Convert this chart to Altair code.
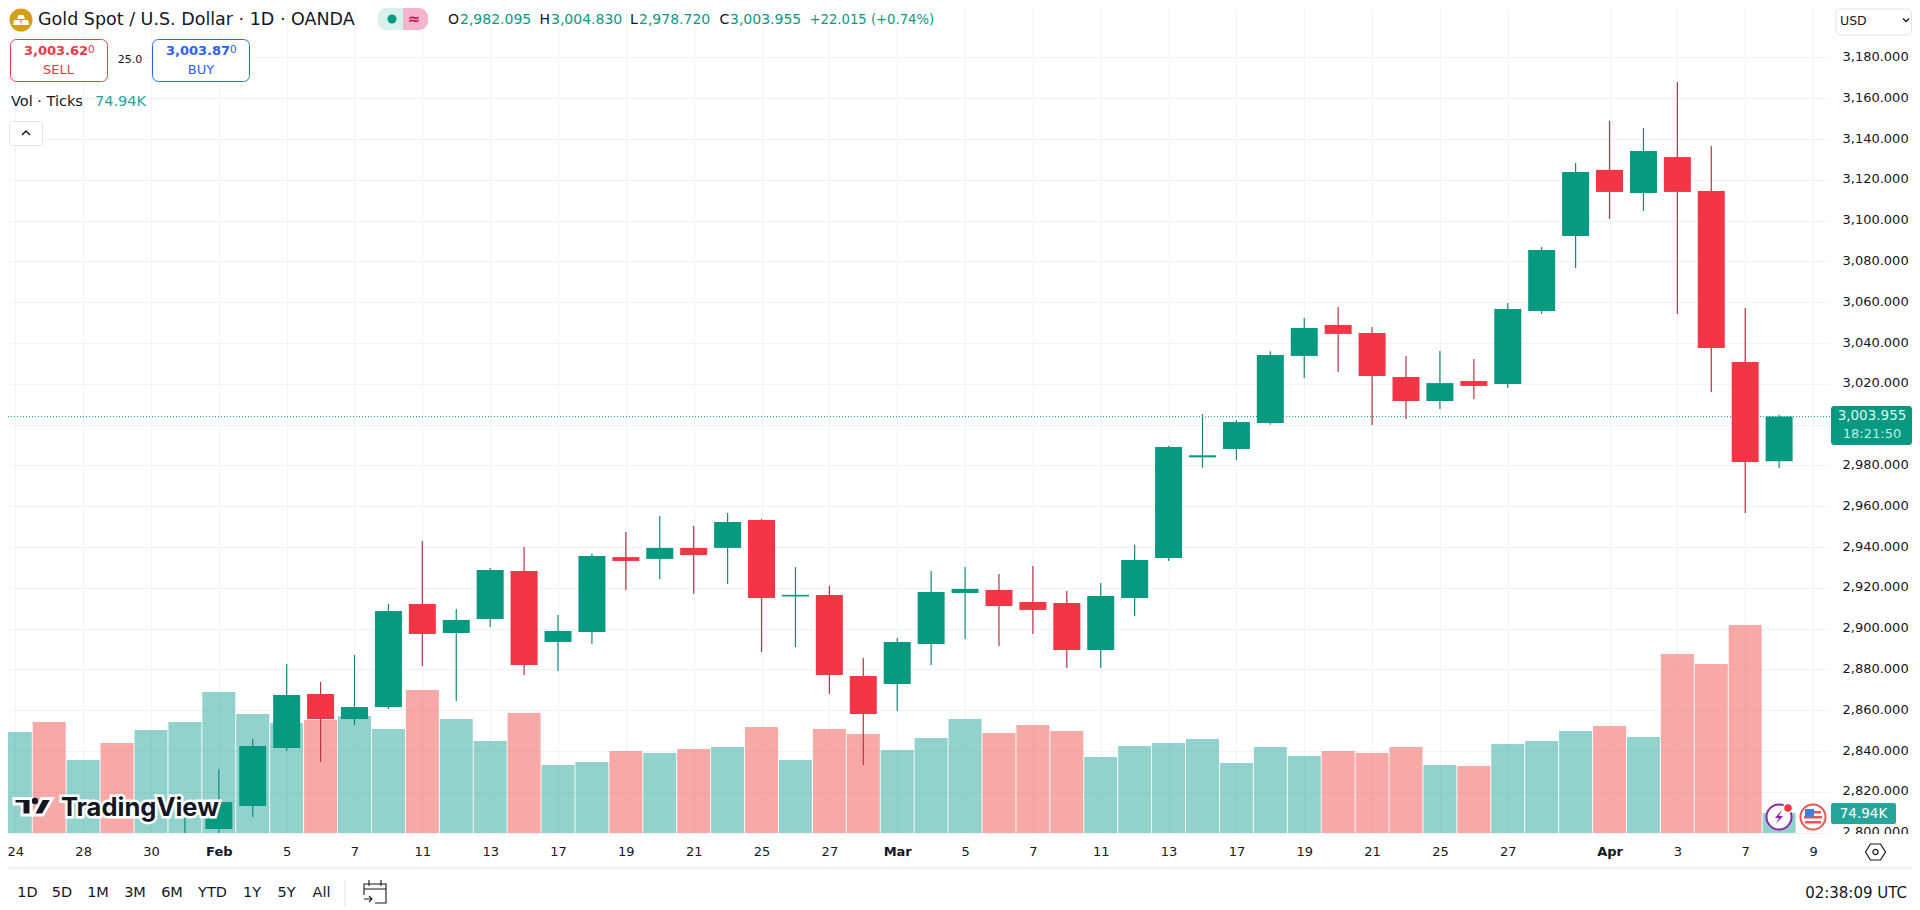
import altair as alt
import pandas as pd

alt.data_transformers.disable_max_rows()

# ---------- chart values ----------
tick_index = [0, 2, 4, 6, 8, 10, 12, 14, 16, 18, 20, 22, 24, 26, 28, 30, 32, 34, 36, 38, 40, 42, 44, 47, 49, 51, 53]
tick_labels = ["24", "28", "30", "Feb", "5", "7", "11", "13", "17", "19", "21", "25", "27", "Mar",
               "5", "7", "11", "13", "17", "19", "21", "25", "27", "Apr", "3", "7", "9"]
month_ticks = [6, 26, 47]
price_ticks = list(range(2800, 3200, 20))
hidden_price_label = 3000

candle_index = list(range(5, 53))
opens = [2790, 2801.8, 2813.1, 2841.5, 2868, 2855.7, 2861.6, 2912.1, 2897.9, 2904.8, 2928.3, 2893.5, 2898.4, 2935.1,
         2934.2, 2939.6, 2939.6, 2953.3, 2915.8, 2916.5, 2876.8, 2872.9, 2892.5, 2917.5, 2919, 2913.1, 2912.6, 2889.6,
         2915.1, 2934.7, 2984, 2988.1, 3000.8, 3033.7, 3048.9, 3045, 3023.4, 3011.6, 3021.4, 3020, 3055.7, 3092.5,
         3124.9, 3113.6, 3131.2, 3114.6, 3030.7, 2982.095]
closes = [2796, 2815, 2842.5, 2867.5, 2855.7, 2861.6, 2908.7, 2897.4, 2904.3, 2928.8, 2882.2, 2898.9, 2935.6, 2933.2,
          2939.6, 2936.1, 2952.3, 2915.1, 2916.6, 2877.3, 2858.2, 2893.5, 2918, 2919.5, 2911.1, 2909.2, 2889.6, 2916,
          2933.7, 2989.1, 2985, 3001.3, 3034.2, 3047.4, 3044.5, 3023.9, 3011.6, 3020.4, 3019, 3056.7, 3085.6, 3123.9,
          3114.1, 3134.2, 3114.1, 3037.6, 2981.7, 3003.955]
highs = [2807.2, 2831.1, 2845.9, 2882.7, 2873.9, 2887.1, 2912.1, 2943, 2909.7, 2929.8, 2940.1, 2906.7, 2936.9, 2947.4,
         2955.2, 2950.3, 2956.7, 2953.8, 2930.2, 2921, 2885.6, 2895.4, 2928.3, 2930.2, 2926.8, 2930.7, 2918.5, 2922.4,
         2941, 2989.6, 3005.2, 3002.3, 3036, 3052.3, 3057.7, 3047.9, 3033.7, 3036.1, 3032.2, 3059.7, 3087.1, 3128.3,
         3148.9, 3145.4, 3168, 3136.6, 3057.2, 3004.83]
lows = [2785, 2800, 2807.7, 2840, 2834.7, 2852.8, 2860.6, 2881.7, 2864.6, 2900.8, 2877.3, 2879.3, 2892.5, 2919,
        2924.4, 2917.1, 2921.9, 2888.6, 2891, 2868, 2833.2, 2859.7, 2882.2, 2895, 2891.5, 2897.4, 2880.7, 2880.7,
        2906.2, 2933.2, 2978.8, 2982.7, 3000, 3022.9, 3025.8, 2999.9, 3002.8, 3007.7, 3012.6, 3018, 3054.3, 3076.8,
        3100.8, 3104.8, 3054.3, 3016, 2956.7, 2978.72]
volumes = [378.4, 415.9, 273.5, 337.2, 385.9, 415.9, 528.3, 445.9, 412.2, 423.4, 438.4, 389.7, 535.8, 427.2, 344.7,
           449.6, 254.8, 266.0, 307.3, 299.8, 314.7, 322.2, 397.2, 273.5, 389.7, 371.0, 311.0, 356.0, 427.2, 374.7,
           404.7, 382.2, 284.8, 326.0, 337.2, 352.2, 262.3, 322.2, 288.5, 307.3, 299.8, 322.2, 254.8, 251.0, 333.5,
           344.7, 382.2, 400.9, 359.7, 670.7, 633.2, 779.4, 74.94]
volume_dir = ["up", "down", "up", "down", "up", "up", "up", "up", "up", "down", "up", "up", "down", "up", "up", "down",
              "up", "up", "down", "up", "down", "up", "down", "up", "down", "down", "up", "up", "up", "down", "down",
              "down", "up", "up", "up", "up", "up", "up", "up", "down", "down", "down", "up", "down", "up", "up", "up",
              "down", "up", "down", "down", "down", "up"]
last_close = [3003.955]

# ---------- palette ----------
UP, DOWN = "#089981", "#f23645"
VOL_UP, VOL_DOWN = "#26a69a", "#ef5350"
INK, GRID, EDGE = "#131722", "#f0f3fa", "#e0e3eb"
NUM = "DejaVu Sans"

candles = pd.DataFrame({"i": candle_index, "open": opens, "close": closes, "high": highs, "low": lows})
candles["dir"] = ["up" if c >= o else "down" for o, c in zip(opens, closes)]
vols = pd.DataFrame({"i": list(range(len(volumes))), "vol": volumes, "dir": volume_dir})

x_scale = alt.Scale(domain=[-0.2152, 53.5], nice=False, zero=False, padding=0)
y_scale = alt.Scale(domain=[2799.85, 3204.26], nice=False, zero=False, padding=0)
v_scale = alt.Scale(domain=[0, 3091.3], nice=False, zero=True, padding=0)
PW, PH = 1822, 825

label_map = "{" + ",".join(f"'{i}':'{t}'" for i, t in zip(tick_index, tick_labels)) + "}"
month_test = "||".join(f"datum.value=={m}" for m in month_ticks)

x_axis = alt.Axis(values=tick_index, labelExpr=f"{label_map}[datum.value]", title=None, grid=True, gridColor=GRID,
                  domain=False, ticks=False, labelPadding=12, labelFont=NUM, labelFontSize=13, labelColor=INK,
                  labelFontWeight={"condition": {"test": month_test, "value": "bold"}, "value": "normal"},
                  labelOverlap=False, labelBound=False, labelFlush=False)
y_axis = alt.Axis(values=price_ticks, orient="right", title=None, grid=True, gridColor=GRID,
                  labelExpr=f"datum.value=={hidden_price_label} ? '' : format(datum.value, ',.3f')",
                  domain=False, ticks=False, labelPadding=12, labelOffset=-1, labelFont=NUM, labelFontSize=13,
                  labelColor=INK, labelOverlap=False, labelBound=False, labelFlush=False)

X_NO = alt.X("i:Q", scale=x_scale, axis=None)
col_candle = alt.Color("dir:N", scale=alt.Scale(domain=["up", "down"], range=[UP, DOWN]), legend=None)
col_wick = alt.Color("dir:N", scale=alt.Scale(domain=["up", "down"], range=["#128a76", "#b8323f"]), legend=None)
col_vol = alt.Color("dir:N", scale=alt.Scale(domain=["up", "down"], range=[VOL_UP, VOL_DOWN]), legend=None)

volume_layer = alt.Chart(vols).mark_bar(size=33, opacity=0.5, clip=True, orient="vertical").encode(
    x=alt.X("i:Q", scale=x_scale, axis=x_axis),
    y=alt.Y("vol:Q", scale=v_scale, axis=None),
    color=col_vol,
)
price_axis_layer = alt.Chart(pd.DataFrame({"last": last_close})).mark_rule(
    color=UP, strokeDash=[1, 2], strokeWidth=1).encode(
    y=alt.Y("last:Q", scale=y_scale, axis=y_axis),
)
wick_layer = alt.Chart(candles).mark_rule(strokeWidth=1.2, clip=True).encode(
    x=X_NO,
    y=alt.Y("low:Q", scale=y_scale, axis=None),
    y2="high:Q",
    color=col_wick,
)
body_layer = alt.Chart(candles).mark_bar(size=27, clip=True, orient="vertical").encode(
    x=X_NO,
    y=alt.Y("open:Q", scale=y_scale, axis=None),
    y2="close:Q",
    color=col_candle,
)

# ---------- interface furniture, placed in page pixels ----------
ONE = alt.Data(values=[{"k": 1}])


def px(v):
    return alt.value(v - 8)


def text(s, x, y, size=13, color=INK, align="left", weight="normal", font=NUM, **kw):
    return alt.Chart(ONE).mark_text(align=align, baseline="middle", fontSize=size, fontWeight=weight, font=font,
                                    color=color, **kw).encode(x=px(x), y=px(y), text=alt.value(s))


def box(x1, y1, x2, y2, fill="white", stroke=None, radius=0, **kw):
    args = dict(fill=fill, cornerRadius=radius, **kw)
    if stroke:
        args.update(stroke=stroke, strokeWidth=1)
    return alt.Chart(ONE).mark_rect(**args).encode(x=px(x1), x2=px(x2), y=px(y1), y2=px(y2))


def glyph(path, x, y, fill=None, stroke=None, width=1):
    args = dict(shape=path, size=4, opacity=1)
    if fill:
        args.update(filled=True, fill=fill, strokeWidth=0)
    if stroke:
        args.update(filled=bool(fill), stroke=stroke, strokeWidth=width)
    return alt.Chart(ONE).mark_point(**args).encode(x=px(x), y=px(y))


def circle(x, y, r, fill=None, stroke=None, width=1):
    return alt.Chart(ONE).mark_point(shape="circle", size=4 * r * r, opacity=1, filled=bool(fill),
                                     **({"fill": fill} if fill else {}),
                                     **({"stroke": stroke, "strokeWidth": width} if stroke else {"strokeWidth": 0})
                                     ).encode(x=px(x), y=px(y))


overlays = []
# right-hand tags and the covered part of the lowest price label
overlays += [box(1831, 834, 1912, 846), box(1831, 406, 1912, 445, fill=UP, radius=3),
             text("3,003.955", 1872, 416, color="#dff7f2", align="center", size=13.5),
             text("18:21:50", 1872, 434, color="#b9efe4", align="center", size=13),
             box(1831, 803, 1896, 824, fill="#26a69a", radius=2),
             text("74.94K", 1863.5, 813.5, color="white", align="center", size=13.5),
             box(1836, 9, 1911.5, 35, stroke=EDGE, radius=4),
             text("USD", 1840, 21, size=12.5),
             glyph("M-3,-1.5L0,1.5L3,-1.5", 1906, 20, stroke=INK, width=1.4)]
# header
overlays += [circle(21, 20, 11.5, fill="#d49e16"),
             glyph("M-2.5,-6H2.5L4,-2H-4ZM-7,-1H-1L0,4H-8ZM1,-1H7L8,4H0Z", 21, 21, fill="white"),
             text("Gold Spot / U.S. Dollar · 1D · OANDA", 38, 20, size=17.5),
             box(378, 8, 428, 30, fill="#f6b3cc", radius=9),
             box(378, 8, 403, 30, fill="#d9f1ec", cornerRadiusTopLeft=9, cornerRadiusBottomLeft=9),
             circle(392, 19, 4.5, fill=UP),
             text("≈", 414, 19, size=15, color="#c2185b", align="center", weight="bold")]
for lab, lx, val, vx in [("O", 448, "2,982.095", 460), ("H", 539.5, "3,004.830", 551),
                         ("L", 630, "2,978.720", 639), ("C", 719.5, "3,003.955", 730)]:
    overlays += [text(lab, lx, 20, size=14), text(val, vx, 20, size=14, color=UP)]
overlays += [text("+22.015 (+0.74%)", 809.5, 20, size=13.2, color=UP)]
# sell / buy
overlays += [box(10.5, 39.5, 107.5, 81.5, stroke=DOWN, radius=6),
             text("3,003.62", 24, 51, size=13, color=DOWN, weight="bold"),
             text("0", 88, 50, size=10.5, color=DOWN),
             text("SELL", 58.5, 70, size=13, color=DOWN, align="center"),
             text("25.0", 130, 60, size=11, align="center"),
             box(152.5, 39.5, 249.5, 81.5, stroke="#2962ff", radius=6),
             text("3,003.87", 166, 51, size=13, color="#2962ff", weight="bold"),
             text("0", 230, 50, size=10.5, color="#2962ff"),
             text("BUY", 201, 70, size=13, color="#2962ff", align="center"),
             text("Vol · Ticks", 11, 102, size=14.5),
             text("74.94K", 95, 102, size=14.5, color="#26a69a"),
             box(9.5, 121.5, 42.5, 145.5, stroke=EDGE, radius=3),
             glyph("M-4,2L0,-2L4,2", 26, 133, stroke=INK, width=1.5)]
# TradingView mark
logo = "M-19,-8H-2V8.5H-11V-2.5H-19ZM8.7,-8H19.3L10,8.5H0Z"
overlays += [glyph(logo, 33, 806.5, fill=INK, stroke="white", width=3),
             circle(35, 801, 3.2, fill=INK),
             text("TradingView", 61, 807.5, size=25.5, weight="bold", font="Inter", color="white",
                  stroke="white", strokeWidth=5),
             text("TradingView", 61, 807.5, size=25.5, weight="bold", font="Inter", color=INK)]
# event icons
bolt = "M3,-7L-4,1H0L-3,7L4,-1H0Z"
overlays += [circle(1779, 817, 12.5, fill="white", stroke="#8e24aa", width=2),
             glyph(bolt, 1779, 817, fill="#8e24aa"),
             circle(1788, 808, 4.5, fill=DOWN, stroke="white", width=1.5),
             circle(1813, 817, 12.5, fill="white", stroke="#ef5350", width=2),
             glyph("M-8,-6H8V-3.5H-8ZM-9,-1H9V1.5H-9ZM-8,4H8V6.5H-8Z", 1813, 817, fill="#ef5350"),
             glyph("M-8,-8H1V0H-8Z", 1813, 817, fill="#3f7fe0")]
# separators and bottom bar
overlays += [alt.Chart(ONE).mark_rule(color=EDGE).encode(x=px(8), x2=px(1912), y=px(868)),
             alt.Chart(ONE).mark_rule(color=EDGE).encode(x=px(345), y=px(880), y2=px(906)),
             glyph("M-5,-8H5L10,0L5,8H-5L-10,0Z", 1875.5, 852, stroke=INK, width=1.2),
             circle(1875.5, 852, 2.6, stroke=INK, width=1.2),
             glyph("M-11,3V-8H11V11H0M-11,-3H11M-6,-12V-6M6,-12V-6M-11,7H-3M-6,4L-3,7L-6,10", 375, 892,
                   stroke=INK, width=1.1)]
for lab, cx in [("1D", 27.5), ("5D", 62), ("1M", 98), ("3M", 135), ("6M", 172), ("YTD", 212.5),
                ("1Y", 252), ("5Y", 286.6), ("All", 321.5)]:
    overlays.append(text(lab, cx, 893, size=14.5, align="center"))
overlays.append(text("02:38:09 UTC", 1907, 893, size=15, align="right"))

chart = alt.layer(volume_layer, price_axis_layer, wick_layer, body_layer, *overlays).resolve_scale(
    y="independent", color="independent"
).resolve_axis(x="independent").properties(
    width=PW, height=PH, background="white",
    autosize=alt.AutoSizeParams(type="none"),
    padding={"left": 0, "top": 0, "right": 82, "bottom": 76},
).configure_view(strokeWidth=0)

chart.save("out.html", embed_options={"renderer": "svg", "actions": False})
